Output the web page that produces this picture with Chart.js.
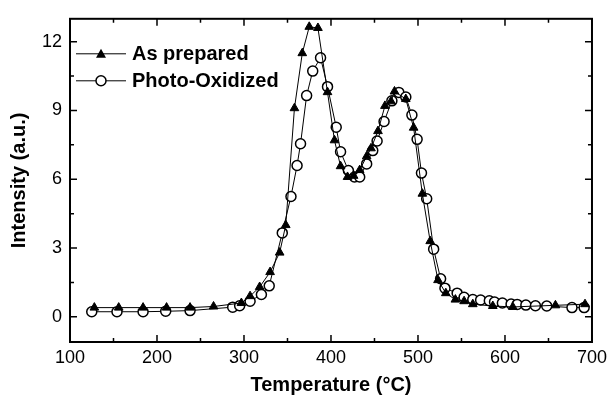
<!DOCTYPE html>
<html>
<head>
<meta charset="UTF-8">
<title>Intensity vs Temperature</title>
<script src="https://cdn.jsdelivr.net/npm/chart.js"></script>
<style>
  html, body { margin: 0; padding: 0; background: #fff; }
  #wrap { width: 612px; height: 402px; }
</style>
</head>
<body>
<div id="wrap"><canvas id="chart" width="612" height="402"></canvas></div>
<script>
// As prepared (triangles)
const tempPrepared = [128, 156, 184, 211, 238, 265, 297, 307, 318, 330, 341, 348, 358, 367, 375, 385,
  396, 404, 411, 419, 426, 433, 441, 446, 454, 462, 469, 473, 486, 495, 505, 514, 523, 532, 543,
  553, 563, 586, 609, 658, 692];
const intPrepared = [0.40, 0.40, 0.40, 0.40, 0.40, 0.45, 0.60, 0.90, 1.30, 1.95, 2.80, 4.00, 9.10, 11.50, 12.65, 12.60,
  9.80, 7.70, 6.57, 6.10, 6.15, 6.40, 7.00, 7.35, 8.10, 9.20, 9.40, 9.83, 9.50, 8.25, 5.37, 3.30, 1.60, 1.03, 0.75,
  0.68, 0.55, 0.47, 0.43, 0.50, 0.55];

// Photo-Oxidized (open circles)
const tempOxidized = [125, 154, 184, 210, 238, 287, 295, 307, 320, 329, 344, 354, 361, 365, 372, 379, 388,
  396, 406, 411, 420, 427, 433, 441, 448, 453, 461, 470, 478, 486, 493, 499, 504, 510, 518, 526, 531,
  545, 553, 563, 572, 582, 588, 597, 607, 614, 624, 635, 648, 677, 691];
const intOxidized = [0.22, 0.22, 0.22, 0.24, 0.27, 0.42, 0.48, 0.68, 0.97, 1.35, 3.66, 5.25, 6.60, 7.55, 9.65, 10.72, 11.30,
  10.04, 8.27, 7.20, 6.38, 6.10, 6.10, 6.67, 7.25, 7.67, 8.52, 9.42, 9.79, 9.59, 8.80, 7.74, 6.27, 5.15, 2.95, 1.66, 1.25,
  1.03, 0.85, 0.75, 0.73, 0.70, 0.64, 0.60, 0.56, 0.54, 0.51, 0.48, 0.47, 0.40, 0.40];

const xTicks = [100, 200, 300, 400, 500, 600, 700];
const yTicks = [0, 3, 6, 9, 12];

const toPoints = (xs, ys) => xs.map((x, i) => ({ x: x, y: ys[i] }));
const FONT = 'Liberation Sans, Arial';

// frame + inward ticks on all four sides
const frameTicks = {
  id: 'frameTicks',
  afterDraw(chart) {
    const { ctx, chartArea: a, scales } = chart;
    const xs = scales.x, ys = scales.y;
    ctx.save();
    ctx.strokeStyle = '#000';
    ctx.lineWidth = 1.5;
    for (let v = 100; v <= 700; v += 50) {
      const px = xs.getPixelForValue(v);
      const len = v % 100 === 0 ? 7 : 4;
      ctx.beginPath();
      ctx.moveTo(px, a.bottom); ctx.lineTo(px, a.bottom - len);
      ctx.moveTo(px, a.top); ctx.lineTo(px, a.top + len);
      ctx.stroke();
    }
    for (let v = 0; v <= 12; v += 1.5) {
      const py = ys.getPixelForValue(v);
      const len = v % 3 === 0 ? 7 : 4;
      ctx.beginPath();
      ctx.moveTo(a.left, py); ctx.lineTo(a.left + len, py);
      ctx.moveTo(a.right, py); ctx.lineTo(a.right - len, py);
      ctx.stroke();
    }
    ctx.lineWidth = 2;
    ctx.strokeRect(a.left, a.top, a.right - a.left, a.bottom - a.top);
    ctx.restore();
  }
};

// legend drawn inside the plot, top left
const legendBox = {
  id: 'legendBox',
  afterDraw(chart) {
    const { ctx, chartArea: a } = chart;
    const items = [
      { text: 'As prepared', tri: true, y: a.top + 35 },
      { text: 'Photo-Oxidized', tri: false, y: a.top + 62 }
    ];
    ctx.save();
    ctx.font = 'bold 20px "Liberation Sans", Arial';
    ctx.textBaseline = 'middle';
    items.forEach(it => {
      const x0 = a.left + 6, x1 = a.left + 56, xm = (x0 + x1) / 2;
      ctx.strokeStyle = '#000';
      ctx.lineWidth = 1;
      ctx.beginPath(); ctx.moveTo(x0, it.y); ctx.lineTo(x1, it.y); ctx.stroke();
      ctx.beginPath();
      if (it.tri) {
        ctx.fillStyle = '#000';
        ctx.moveTo(xm, it.y - 5); ctx.lineTo(xm + 5, it.y + 4); ctx.lineTo(xm - 5, it.y + 4);
        ctx.closePath(); ctx.fill();
      } else {
        ctx.fillStyle = '#fff';
        ctx.lineWidth = 1.5;
        ctx.arc(xm, it.y, 5, 0, Math.PI * 2);
        ctx.fill(); ctx.stroke();
      }
      ctx.fillStyle = '#000';
      ctx.fillText(it.text, x1 + 6, it.y + 1);
    });
    ctx.restore();
  }
};

new Chart(document.getElementById('chart'), {
  type: 'line',
  data: {
    datasets: [
      {
        label: 'As prepared',
        data: toPoints(tempPrepared, intPrepared),
        borderColor: '#000',
        borderWidth: 1,
        backgroundColor: '#000',
        pointStyle: 'triangle',
        pointRadius: 5,
        pointBorderWidth: 1,
        pointBackgroundColor: '#000',
        pointBorderColor: '#000',
        tension: 0
      },
      {
        label: 'Photo-Oxidized',
        data: toPoints(tempOxidized, intOxidized),
        borderColor: '#000',
        borderWidth: 1,
        backgroundColor: '#fff',
        pointStyle: 'circle',
        pointRadius: 5,
        pointBorderWidth: 1.5,
        pointBackgroundColor: '#fff',
        pointBorderColor: '#000',
        tension: 0
      }
    ]
  },
  options: {
    responsive: false,
    animation: false,
    layout: { padding: { left: 0, top: 10, right: 19, bottom: 0 } },
    plugins: {
      legend: { display: false },
      tooltip: { enabled: false }
    },
    scales: {
      x: {
        type: 'linear',
        min: 100,
        max: 700,
        afterBuildTicks: s => { s.ticks = xTicks.map(v => ({ value: v })); },
        afterFit: s => { s.height = 60; },
        grid: { display: false, drawTicks: false },
        border: { display: false },
        ticks: { color: '#000', padding: 5, font: { family: FONT, size: 18 } },
        title: {
          display: true,
          text: 'Temperature (°C)',
          color: '#000',
          padding: { top: 6, bottom: 5 },
          font: { family: FONT, size: 20, weight: 'bold' }
        }
      },
      y: {
        min: -1.1,
        max: 13,
        afterBuildTicks: s => { s.ticks = yTicks.map(v => ({ value: v })); },
        afterFit: s => { s.width = 70; },
        grid: { display: false, drawTicks: false },
        border: { display: false },
        ticks: { color: '#000', padding: 8, font: { family: FONT, size: 18 } },
        title: {
          display: true,
          text: 'Intensity (a.u.)',
          color: '#000',
          padding: { top: 7, bottom: 6 },
          font: { family: FONT, size: 20, weight: 'bold' }
        }
      }
    }
  },
  plugins: [frameTicks, legendBox]
});
</script>
</body>
</html>
